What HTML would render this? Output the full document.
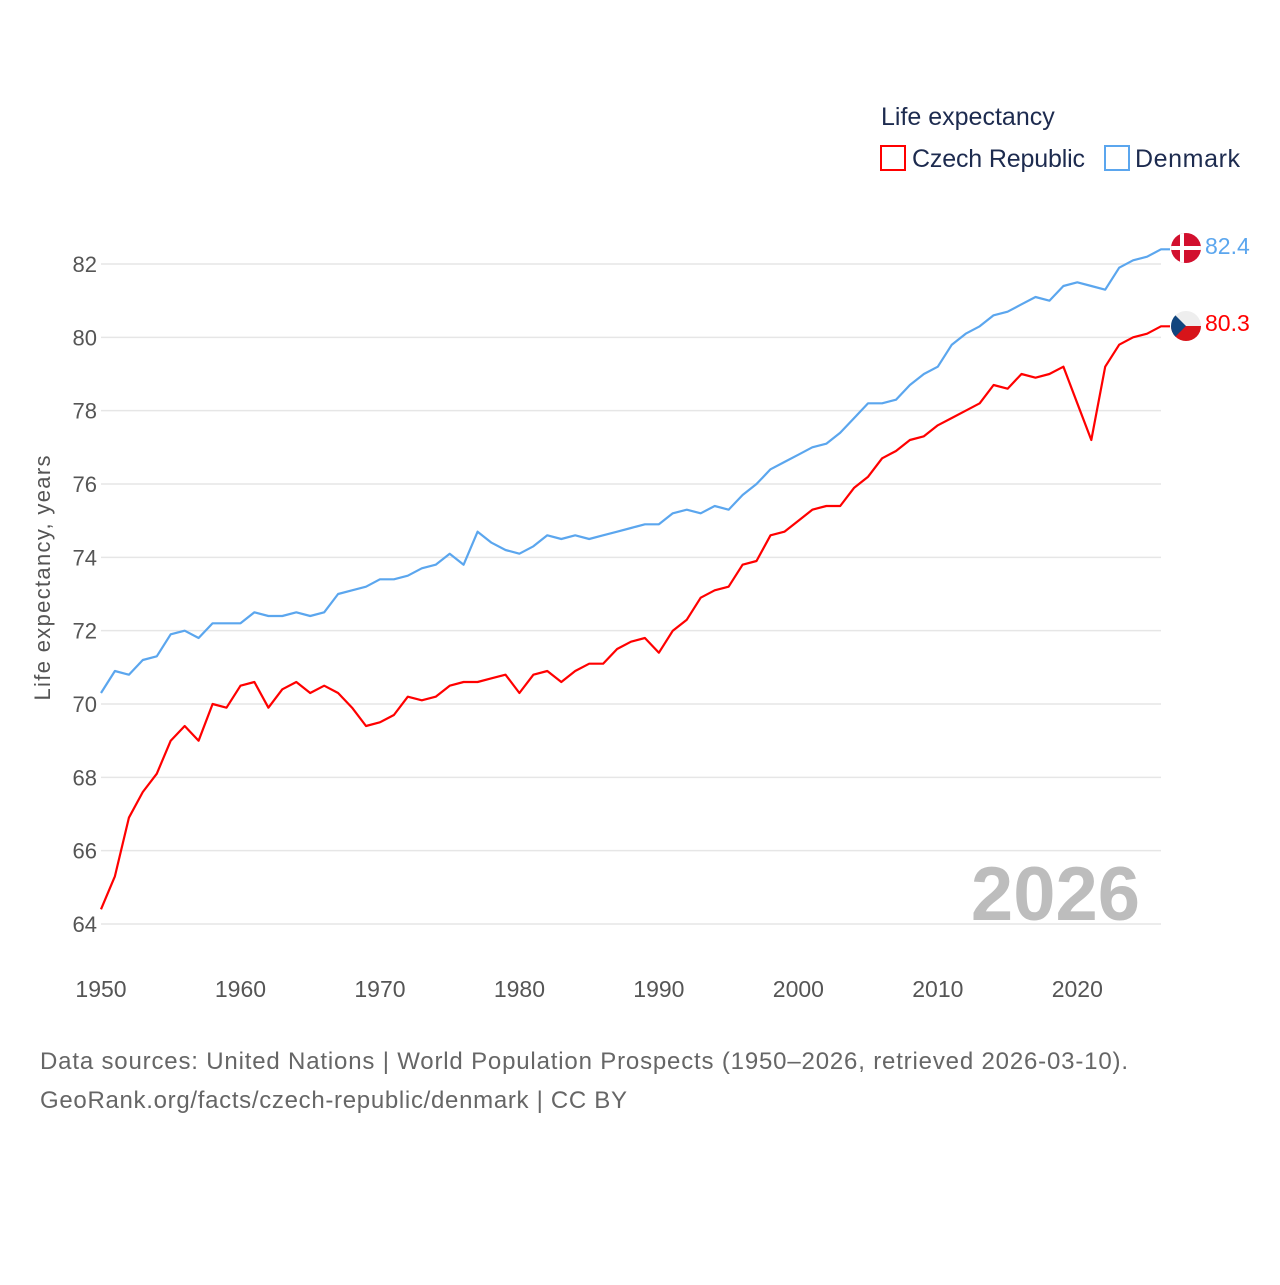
<!DOCTYPE html>
<html><head><meta charset="utf-8"><style>
body{margin:0;background:#fff;}
svg text{font-family:"Liberation Sans",sans-serif;}
</style></head><body>
<svg width="1280" height="1280" viewBox="0 0 1280 1280" id="chart">
<text x="881" y="125" font-size="25" fill="#1d2b4f">Life expectancy</text>
<g><rect x="881" y="146" width="24" height="24" fill="none" stroke="#ff0000" stroke-width="2"/><text x="912" y="167" font-size="25" fill="#1d2b4f" textLength="173">Czech Republic</text></g>
<g><rect x="1105" y="146" width="24" height="24" fill="none" stroke="#5ba6ee" stroke-width="2"/><text x="1135" y="167" font-size="25" fill="#1d2b4f" textLength="105">Denmark</text></g>
<g id="grid"></g>
<g id="yt"></g>
<g id="xt"></g>
<text transform="translate(50,578) rotate(-90)" text-anchor="middle" font-size="22" fill="#555" textLength="245">Life expectancy, years</text>
<text x="1140" y="920" text-anchor="end" font-size="76" font-weight="bold" fill="#bdbdbd">2026</text>
<g id="lines"></g>
<g><clipPath id="cd"><circle cx="1186" cy="248" r="15"/></clipPath><g clip-path="url(#cd)"><rect x="1170" y="232" width="32" height="32" fill="#d2102e"/><rect x="1180" y="232" width="4" height="32" fill="#fff"/><rect x="1170" y="246" width="32" height="4" fill="#fff"/></g></g>
<g><clipPath id="cc"><circle cx="1186" cy="326" r="15"/></clipPath><g clip-path="url(#cc)"><rect x="1170" y="310" width="32" height="16" fill="#eee"/><rect x="1170" y="326" width="32" height="16" fill="#d7141a"/><polygon points="1170,310 1186,326 1170,342" fill="#11457e"/></g></g>
<text id="lbl-dk" x="1205" y="254" font-size="23" fill="#5ba6ee">82.4</text>
<text id="lbl-cz" x="1205" y="331" font-size="23" fill="#ff0000">80.3</text>
<text x="40" y="1069" font-size="24" fill="#666" textLength="1088">Data sources: United Nations | World Population Prospects (1950–2026, retrieved 2026-03-10).</text>
<text x="40" y="1108" font-size="24" fill="#666" textLength="587">GeoRank.org/facts/czech-republic/denmark | CC BY</text>
</svg>
<script>
const startYear = 1950;
const czech = [64.4,65.3,66.9,67.6,68.1,69.0,69.4,69.0,70.0,69.9,70.5,70.6,69.9,70.4,70.6,70.3,70.5,70.3,69.9,69.4,69.5,69.7,70.2,70.1,70.2,70.5,70.6,70.6,70.7,70.8,70.3,70.8,70.9,70.6,70.9,71.1,71.1,71.5,71.7,71.8,71.4,72.0,72.3,72.9,73.1,73.2,73.8,73.9,74.6,74.7,75.0,75.3,75.4,75.4,75.9,76.2,76.7,76.9,77.2,77.3,77.6,77.8,78.0,78.2,78.7,78.6,79.0,78.9,79.0,79.2,78.2,77.2,79.2,79.8,80.0,80.1,80.3];
const denmark = [70.3,70.9,70.8,71.2,71.3,71.9,72.0,71.8,72.2,72.2,72.2,72.5,72.4,72.4,72.5,72.4,72.5,73.0,73.1,73.2,73.4,73.4,73.5,73.7,73.8,74.1,73.8,74.7,74.4,74.2,74.1,74.3,74.6,74.5,74.6,74.5,74.6,74.7,74.8,74.9,74.9,75.2,75.3,75.2,75.4,75.3,75.7,76.0,76.4,76.6,76.8,77.0,77.1,77.4,77.8,78.2,78.2,78.3,78.7,79.0,79.2,79.8,80.1,80.3,80.6,80.7,80.9,81.1,81.0,81.4,81.5,81.4,81.3,81.9,82.1,82.2,82.4];
const yTicks = [64,66,68,70,72,74,76,78,80,82];
const xTicks = [1950,1960,1970,1980,1990,2000,2010,2020];
const NS="http://www.w3.org/2000/svg";
const X0=101, X1=1161;
function x(yr){return X0+(yr-1950)*(X1-X0)/76;}
function y(v){return 264+(82-v)*36.667;}
function mk(t,a,p){const e=document.createElementNS(NS,t);for(const k in a)e.setAttribute(k,a[k]);p.appendChild(e);return e;}
const grid=document.getElementById('grid'),yt=document.getElementById('yt'),xt=document.getElementById('xt'),lines=document.getElementById('lines');
yTicks.forEach(v=>{
  const l=mk('line',{x1:X0,x2:X1,y1:y(v),y2:y(v),stroke:'#e6e6e6','stroke-width':1.5},grid);
  
  
  const t=mk('text',{x:97,y:y(v)+8,'text-anchor':'end','font-size':22,fill:'#555'},yt);
  t.textContent=v;
  
  
});
xTicks.forEach(v=>{
  const t=mk('text',{x:x(v),y:997,'text-anchor':'middle','font-size':23,fill:'#555'},xt);
  t.textContent=v;
  
  
});
function series(arr,color,name){
  const pts=arr.map((v,i)=>x(startYear+i).toFixed(1)+','+y(v).toFixed(1));
  const last=arr[arr.length-1];
  pts.push((x(startYear+arr.length-1)+9).toFixed(1)+','+y(last).toFixed(1));
  const p=mk('polyline',{points:pts.join(' '),fill:'none',stroke:color,'stroke-width':2.2,'stroke-linejoin':'round'},lines);
  
  
}
series(denmark,'#5ba6ee','line-denmark');
series(czech,'#ff0000','line-czech-republic');
document.getElementById('lbl-dk').textContent=denmark[denmark.length-1].toFixed(1);
document.getElementById('lbl-cz').textContent=czech[czech.length-1].toFixed(1);
</script>
</body></html>
